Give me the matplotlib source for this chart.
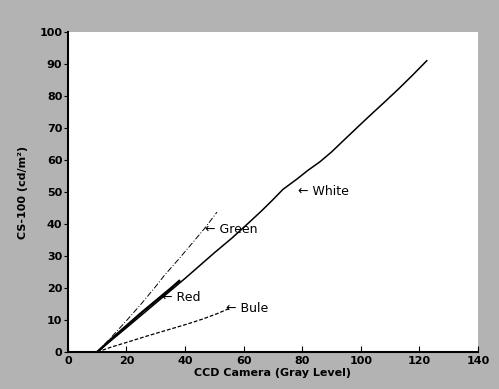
import matplotlib
matplotlib.use("Agg")
import matplotlib.pyplot as plt

# ------------------------------------------------------------
# data
# ------------------------------------------------------------
white_x = [10, 20, 30, 40, 50, 56, 62, 66, 70, 73.4, 78, 82, 86, 90, 94, 98.6, 103, 108, 113, 118, 122.5]
white_y = [0, 7.6, 15.3, 23.0, 31.0, 35.6, 40.6, 44.0, 47.6, 50.8, 53.9, 56.8, 59.4, 62.5, 66.0, 70.0, 73.8, 78.0, 82.3, 86.8, 91.0]

red_x = [10, 15, 20, 25, 30, 35, 38]
red_y = [0, 4.2, 8.2, 12.2, 16.0, 19.8, 22.2]

green_x = [10, 15, 20, 25, 30, 33, 38, 43, 47, 50.9]
green_y = [0, 4.8, 9.8, 15.0, 20.5, 24.0, 29.2, 34.6, 39.0, 43.7]

blue_x = [10, 15, 20, 27, 34, 40.6, 46, 51, 55.3]
blue_y = [0, 1.6, 3.0, 5.0, 6.9, 8.7, 10.3, 12.0, 13.7]

labels = ["\u2190 White", "\u2190 Green", "\u2190 Red", "\u2190 Bule"]
label_x = [78.5, 46.8, 32.0, 54.0]
label_y = [50.0, 38.4, 17.0, 13.5]

x_ticks = [0, 20, 40, 60, 80, 100, 120, 140]
y_ticks = [0, 10, 20, 30, 40, 50, 60, 70, 80, 90, 100]

# ------------------------------------------------------------
fig = plt.figure(figsize=(4.99, 3.89), dpi=100)
fig.patch.set_facecolor("#b3b3b3")
ax = fig.add_axes([0.136, 0.095, 0.822, 0.823])
ax.set_facecolor("white")

ax.plot(white_x, white_y, color="black", lw=1.1)
ax.plot(red_x, red_y, color="black", lw=1.7)
ax.plot(green_x, green_y, color="black", lw=0.7, linestyle=(0, (6, 2, 1, 2)))
ax.plot(blue_x, blue_y, color="black", lw=0.9, linestyle=(0, (3, 1.5)))

for t, x, y in zip(labels, label_x, label_y):
    ax.text(x, y, t, fontsize=9, va="center", ha="left",
            family=["DejaVu Sans"])

ax.set_xlim(0, 140)
ax.set_ylim(0, 100)
ax.set_xticks(x_ticks)
ax.set_yticks(y_ticks)
ax.tick_params(axis="x", direction="in", length=4, labelsize=8, pad=3)
ax.tick_params(axis="y", direction="out", length=3, labelsize=8, pad=1)
for lab in ax.get_xticklabels() + ax.get_yticklabels():
    lab.set_fontweight("bold")

ax.spines["top"].set_visible(False)
ax.spines["right"].set_visible(False)
ax.spines["left"].set_linewidth(1.5)
ax.spines["bottom"].set_linewidth(1.5)

ax.set_xlabel("CCD Camera (Gray Level)", fontsize=8, fontweight="bold", labelpad=1)
ax.set_ylabel("CS-100 (cd/m\u00b2)", fontsize=8, fontweight="bold", labelpad=8)

plt.savefig("out.png", dpi=100, facecolor=fig.get_facecolor())
plt.close()
